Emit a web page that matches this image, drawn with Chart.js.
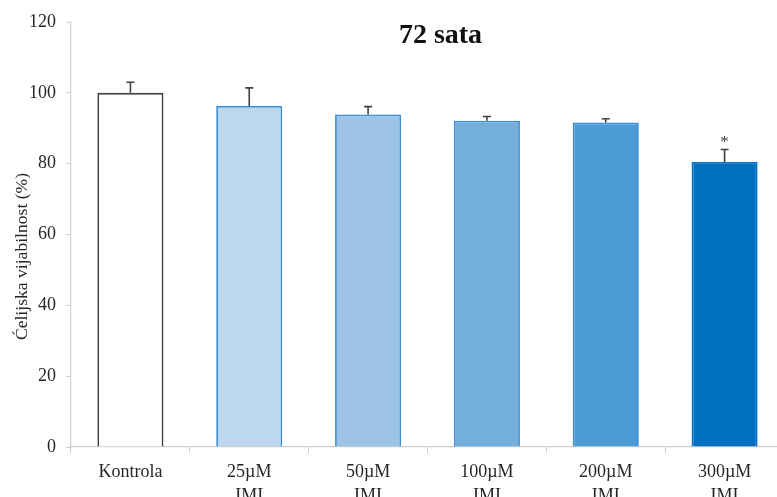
<!DOCTYPE html>
<html>
<head>
<meta charset="utf-8">
<script src="https://cdn.jsdelivr.net/npm/chart.js@4.4.1/dist/chart.umd.min.js"></script>
<style>
  html, body { margin: 0; padding: 0; background: #ffffff; overflow: hidden; }
  #wrap { position: absolute; left: 0; top: 0; width: 790px; height: 510px; }
</style>
</head>
<body>
<div id="wrap"><canvas id="chart"></canvas></div>
<script>
// Cell viability after 72 h of treatment
const categories = ['Kontrola', ['25µM', 'IMI'], ['50µM', 'IMI'], ['100µM', 'IMI'], ['200µM', 'IMI'], ['300µM', 'IMI']];
const viability = [100, 96.3, 93.9, 92.1, 91.6, 80.5];
const errors = [3.0, 5.1, 2.2, 1.2, 1.1, 3.5];
const significance = ['', '', '', '', '', '*'];
const yTicks = [0, 20, 40, 60, 80, 100, 120];

const fillColors = ['#ffffff', '#bdd7ee', '#9dc3e6', '#74afdc', '#4b9bd4', '#0070c0'];
const edgeColors = ['#404040', '#3b8fd6', '#3b8fd6', '#3b8fd6', '#3b8fd6', '#0070c0'];

const serif = '"Liberation Serif", "Times New Roman", serif';

// Error bars (upper whisker only) and significance marks
const errorBarPlugin = {
  id: 'errorBars',
  afterDatasetsDraw(chart) {
    const ctx = chart.ctx;
    const meta = chart.getDatasetMeta(0);
    const y = chart.scales.y;
    ctx.save();
    ctx.strokeStyle = '#404040';
    ctx.lineWidth = 1.6;
    meta.data.forEach((bar, i) => {
      const top = y.getPixelForValue(viability[i]);
      const tip = y.getPixelForValue(viability[i] + errors[i]);
      ctx.beginPath();
      ctx.moveTo(bar.x, top);
      ctx.lineTo(bar.x, tip);
      ctx.moveTo(bar.x - 4, tip);
      ctx.lineTo(bar.x + 4, tip);
      ctx.stroke();
      if (significance[i]) {
        ctx.fillStyle = '#404040';
        ctx.font = '17px ' + serif;
        ctx.textAlign = 'center';
        ctx.textBaseline = 'middle';
        ctx.fillText(significance[i], bar.x, tip - 7);
      }
    });
    ctx.restore();
  }
};

// Chart heading and rotated value-axis caption
const captionPlugin = {
  id: 'captions',
  afterDraw(chart) {
    const ctx = chart.ctx;
    const area = chart.chartArea;
    ctx.save();
    ctx.fillStyle = '#111111';
    ctx.font = 'bold 28px ' + serif;
    ctx.textAlign = 'center';
    ctx.textBaseline = 'middle';
    ctx.fillText('72 sata', (area.left + area.right) / 2 + 13, 36);

    ctx.fillStyle = '#262626';
    ctx.font = '17.6px ' + serif;
    ctx.translate(22, (area.top + area.bottom) / 2 + 22);
    ctx.rotate(-Math.PI / 2);
    ctx.fillText('Ćelijska vijabilnost (%)', 0, 0);
    ctx.restore();
  }
};

new Chart(document.getElementById('chart'), {
  type: 'bar',
  data: {
    labels: categories,
    datasets: [{
      data: viability,
      backgroundColor: fillColors,
      borderColor: edgeColors,
      borderWidth: 1.8,
      barPercentage: 0.556,
      categoryPercentage: 1.0
    }]
  },
  options: {
    responsive: true,
    maintainAspectRatio: false,
    animation: false,
    layout: { padding: { top: 22, right: 6, left: 0, bottom: 0 } },
    plugins: {
      legend: { display: false },
      tooltip: { enabled: false }
    },
    scales: {
      x: {
        afterFit(scale) { scale.height = 63; },
        grid: { drawOnChartArea: false, color: '#cfcfcf', tickLength: 6, offset: true },
        border: { color: '#cfcfcf', width: 1.2 },
        ticks: {
          color: '#262626',
          padding: 7,
          maxRotation: 0,
          font: { family: serif, size: 18, lineHeight: 1.33 }
        }
      },
      y: {
        min: 0,
        max: 120,
        afterFit(scale) { scale.width = 71; },
        afterBuildTicks(scale) { scale.ticks = yTicks.map(v => ({ value: v })); },
        grid: { drawOnChartArea: false, color: '#cfcfcf', tickLength: 5 },
        border: { color: '#cfcfcf', width: 1.2 },
        ticks: {
          color: '#262626',
          padding: 10,
          font: { family: serif, size: 18 }
        }
      }
    }
  },
  plugins: [errorBarPlugin, captionPlugin]
});
</script>
</body>
</html>
